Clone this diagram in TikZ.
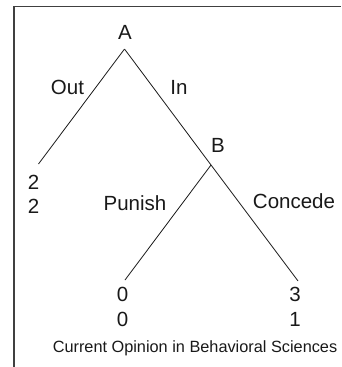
\documentclass[tikz,border=0pt]{standalone}
\usepackage{fontspec}
\setmainfont{Liberation Sans}
\begin{document}
\begin{tikzpicture}[x=1pt,y=-1pt,
  lbl/.style={inner sep=0pt,anchor=base,font=\fontsize{20.5}{24}\selectfont,text=black!90},
  captext/.style={inner sep=0pt,anchor=base,font=\fontsize{16.3}{19}\selectfont,text=black!90},
  branch/.style={line width=0.8pt,draw=black!90},
  frame/.style={line width=1.4pt,draw=black!75}]
\useasboundingbox (0,0) rectangle (341,367);
\draw[frame] (14,367) -- (14,6.5) -- (341,6.5);
% decision points and leaves
\coordinate (a) at (124.5,49);
\coordinate (b) at (211,165);
\coordinate (out) at (38.5,164);
\coordinate (pun) at (125,280);
\coordinate (con) at (298,281);
\draw[branch] (a) -- (out);
\draw[branch] (a) -- (b);
\draw[branch] (b) -- (pun);
\draw[branch] (b) -- (con);
% labels
\node[lbl] (la) at (125,39) {A};
\node[lbl] (lb) at (218,152.5) {B};
\node[lbl] (lout) at (67.5,94) {Out};
\node[lbl] (lin) at (179,94) {In};
\node[lbl] (lpun) at (135,210.5) {Punish};
\node[lbl] (lcon) at (294,208) {Concede};
\node[lbl] (p1) at (33.5,189) {2};
\node[lbl] (p2) at (33.5,213) {2};
\node[lbl] (p3) at (122.5,301.5) {0};
\node[lbl] (p4) at (122.5,326.5) {0};
\node[lbl] (p5) at (295,301.5) {3};
\node[lbl] (p6) at (295,326.5) {1};
\node[captext] (caption) at (195,352) {Current Opinion in Behavioral Sciences};
\end{tikzpicture}
\end{document}
